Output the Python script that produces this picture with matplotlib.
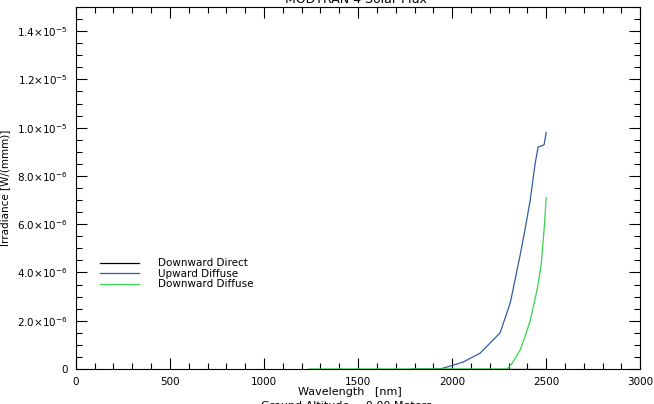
import matplotlib
matplotlib.use("Agg")
import matplotlib.pyplot as plt
from matplotlib.ticker import MultipleLocator, FuncFormatter

# Wavelength grid [nm] and irradiance values for each component
wl_direct = [1780, 1900, 2000, 2100, 2200, 2300, 2400, 2500]
direct = [0, 0, 0, 0, 0, 0, 0, 0]

wl_up = [1780, 1900, 1936, 1989, 2059, 2149, 2202, 2255, 2309, 2362,
         2388, 2415, 2441, 2457, 2479, 2489, 2500]
up_diffuse = [0, 0, 0.0, 0.12e-6, 0.29e-6, 0.66e-6, 1.08e-6, 1.5e-6, 2.74e-6, 4.74e-6,
              5.8e-6, 7.0e-6, 8.5e-6, 9.2e-6, 9.25e-6, 9.3e-6, 9.8e-6]

wl_down = [1240, 1500, 1800, 2000, 2200, 2293, 2320, 2362, 2390, 2415,
           2452, 2473, 2489, 2500]
down_diffuse = [0, 0, 0, 0, 0, 0.0, 0.25e-6, 0.8e-6, 1.4e-6, 2.0e-6,
                3.3e-6, 4.3e-6, 5.8e-6, 7.1e-6]

labels = ["Downward Direct", "Upward Diffuse", "Downward Diffuse"]
colors = ["#000000", "#2f5f9f", "#33d64a"]

plt.rcParams["font.family"] = "DejaVu Sans"
plt.rcParams["mathtext.fontset"] = "dejavusans"

fig = plt.figure(figsize=(6.54, 4.04), dpi=100)
ax = fig.add_axes([0.116, 0.0866, 0.863, 0.896])

ax.plot(wl_direct, direct, color=colors[0], lw=0.9, label=labels[0])
ax.plot(wl_up, up_diffuse, color=colors[1], lw=0.9, label=labels[1])
ax.plot(wl_down, down_diffuse, color=colors[2], lw=0.9, label=labels[2])

ax.set_xlim(0, 3000)
ax.set_ylim(0, 1.5e-5)
ax.xaxis.set_major_locator(MultipleLocator(500))
ax.xaxis.set_minor_locator(MultipleLocator(100))
ax.yaxis.set_major_locator(MultipleLocator(2e-6))
ax.yaxis.set_minor_locator(MultipleLocator(0.5e-6))


def sci(v, pos):
    if abs(v) < 1e-12:
        return "0"
    exp = int(f"{v:.1e}".split("e")[1])
    mant = v / 10 ** exp
    return r"$%.1f{\times}10^{%d}$" % (mant, exp)


ax.yaxis.set_major_formatter(FuncFormatter(sci))
ax.tick_params(which="both", direction="in", top=True, right=True, labelsize=7.5,
               width=0.8, color="black")
ax.tick_params(which="major", length=8, pad=6)
ax.tick_params(which="minor", length=4)
for s in ax.spines.values():
    s.set_linewidth(0.8)

leg = ax.legend(loc="upper left", bbox_to_anchor=(0.035, 0.317), frameon=False,
                fontsize=7.5, handlelength=3.8, handletextpad=1.8,
                labelspacing=0.05, borderaxespad=0)

fig.text(0.545, 1.002, "MODTRAN 4 Solar Flux", ha="center", va="center", fontsize=9)
fig.text(0.535, 0.03, "Wavelength   [nm]", ha="center", va="center", fontsize=8)
fig.text(0.53, -0.004, "Ground Altitude = 0.00 Meters", ha="center", va="center", fontsize=8)
fig.text(0.008, 0.535, "Irradiance [W/(mmm)]", rotation=90, ha="center",
         va="center", fontsize=7.5)

fig.savefig("out.png", dpi=100)
